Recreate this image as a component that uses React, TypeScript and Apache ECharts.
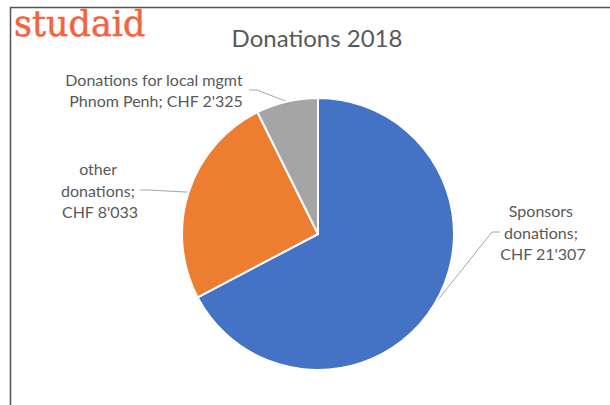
import React, { useEffect, useRef } from "react";
import * as echarts from "echarts";

const categories = ["Sponsors donations", "other donations", "Donations for local mgmt Phnom Penh"];
const values = [21307, 8033, 2325];
const colors = ["#4472c4", "#ed7d31", "#a5a5a5"];
const titleText = "Donations 2018";
const logoText = "studaid";

const labelPlacement = [
  { x: 543, y: 232, width: 86 },
  { x: 100, y: 190, width: 80 },
  { x: 156, y: 90, width: 186 },
];

function fmt(v: number) {
  return String(v).replace(/\B(?=(\d{3})+(?!\d))/g, "'");
}

export default function App() {
  const ref = useRef<HTMLDivElement>(null);
  useEffect(() => {
    const chart = echarts.init(ref.current!, null, { renderer: "svg" });
    chart.setOption({
      animation: false,
      backgroundColor: "#fff",
      graphic: [
        {
          type: "polyline",
          silent: true,
          shape: { points: [[10.5, 405], [10.5, 7.5], [610, 7.5]] },
          style: { stroke: "#555", lineWidth: 1.5, fill: null },
        },
        {
          type: "text",
          x: 14,
          y: 41,
          style: {
            text: logoText,
            fontFamily: "DejaVu Serif",
            fontSize: 35,
            fill: "#f0643f",
            stroke: "#f0643f",
            lineWidth: 0.5,
            verticalAlign: "bottom",
          },
        },
        {
          type: "text",
          x: 317,
          y: 37,
          style: { text: titleText, fontFamily: "Lato", fontSize: 24, fill: "#595959", align: "center", verticalAlign: "middle" },
        },
      ],
      series: [
        {
          type: "pie",
          center: [318, 234],
          radius: 136,
          startAngle: 90,
          clockwise: true,
          data: categories.map((name, i) => ({
            name,
            value: values[i],
            itemStyle: { color: colors[i] },
            label: { width: labelPlacement[i].width },
          })),
          itemStyle: { borderColor: "#fff", borderWidth: 2 },
          label: {
            show: true,
            position: "outside",
            formatter: (p: any) => `${p.name}; CHF ${fmt(p.value)}`,
            overflow: "break",
            fontFamily: "Lato",
            fontSize: 16,
            lineHeight: 21.5,
            color: "#595959",
            align: "center",
          },
          labelLine: { show: true, length: 10, length2: 8, lineStyle: { color: "#a6a6a6", width: 1 } },
          labelLayout: (params: any) => ({
            x: labelPlacement[params.dataIndex].x,
            y: labelPlacement[params.dataIndex].y,
            align: "center",
            verticalAlign: "middle",
          }),
          emphasis: { disabled: true },
        },
      ],
    });
    return () => chart.dispose();
  }, []);
  return <div ref={ref} style={{ position: "fixed", left: 0, top: 0, width: 610, height: 405 }} />;
}
